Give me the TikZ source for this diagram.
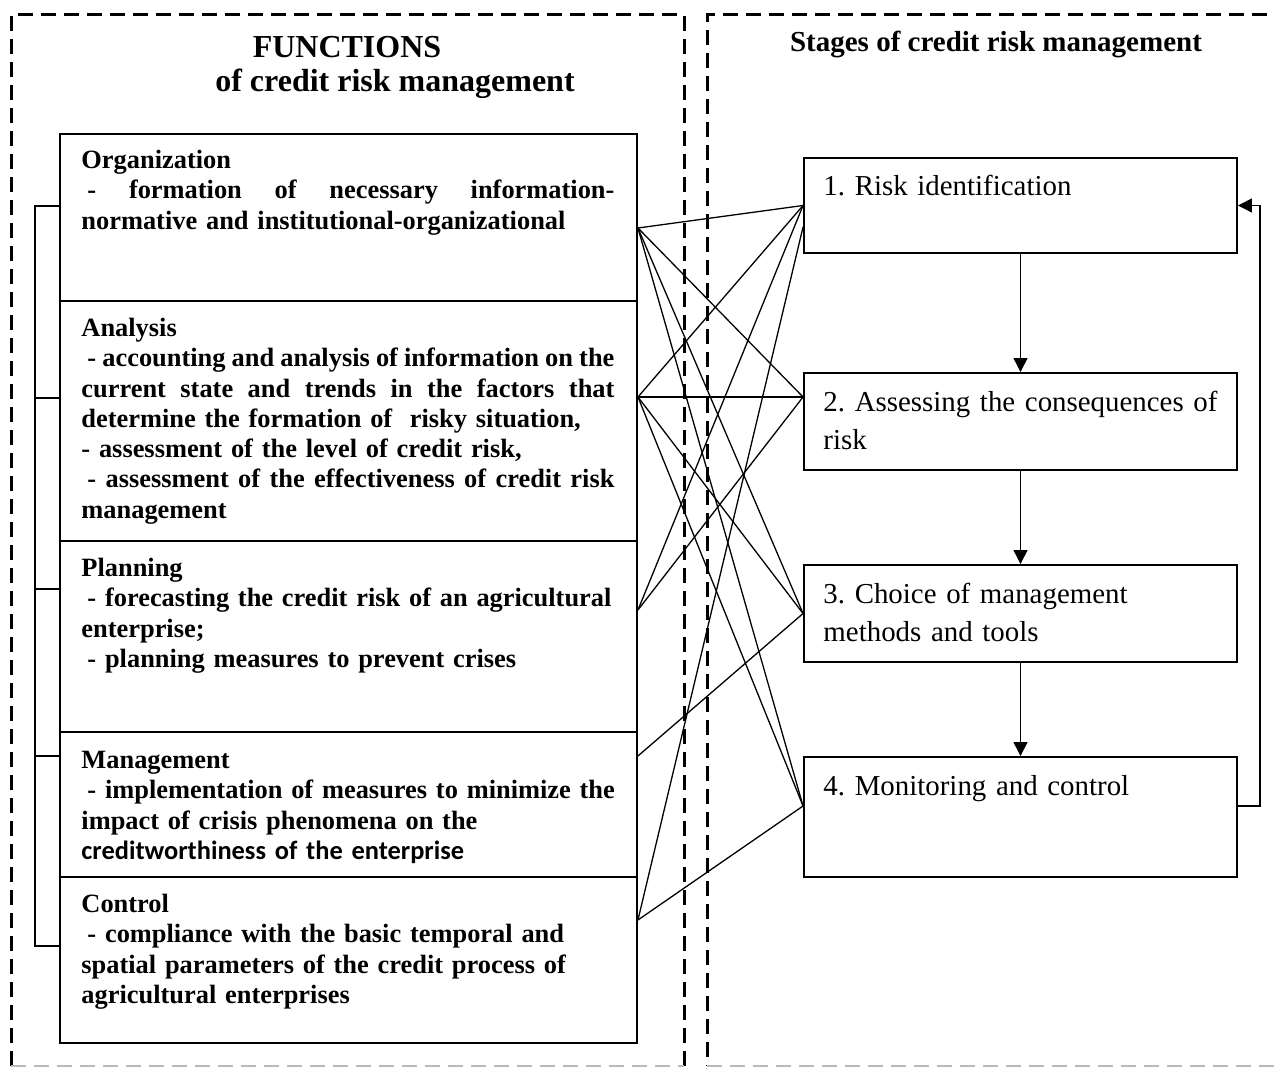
\documentclass[tikz,border=0pt]{standalone}
\usepackage{fontspec}
\setmainfont{Liberation Serif}
\newfontfamily\carlito{Carlito}
\usetikzlibrary{calc,arrows.meta}
% a line of body text spread (or squeezed) to the full text width
\newcommand\fullline[1]{\leavevmode\hbox to 266.5pt{\spaceskip=0.25em plus 2em minus 0.1em\relax #1}}
\begin{document}
\frenchspacing
\begin{tikzpicture}[x=0.5pt,y=-0.5pt,
  frame/.style={line width=1.5pt, dash pattern=on 7.5pt off 4pt},
  fbox/.style={draw, line width=0.95pt, minimum width=288.5pt, inner sep=0pt},
  sbox/.style={draw, line width=0.95pt, minimum width=216.5pt, inner sep=0pt},
  ftext/.style={anchor=north west, inner sep=0pt, text width=280pt, align=left,
    font=\fontsize{13.2}{15.15}\selectfont\bfseries\frenchspacing},
  stext/.style={anchor=north west, inner sep=0pt, text width=212pt, align=left,
    font=\fontsize{14.45}{19}\selectfont\frenchspacing},
  ttl/.style={anchor=base, inner sep=0pt, font=\bfseries},
  link/.style={line width=0.65pt},
  flow/.style={line width=0.65pt, -{Triangle[length=7pt,width=7pt]}},
]
\useasboundingbox (0,0) rectangle (1274,1068);

% dashed frames of the two panels
\draw[frame] (11,1066) -- (11,15) -- (684,15) -- (684,1066);
\draw[frame] (1290,15) -- (707,15) -- (707,1066);
\draw[gray!55, line width=0.8pt, dash pattern=on 7.5pt off 4pt] (11,1066) -- (684,1066);
\draw[gray!55, line width=0.8pt, dash pattern=on 7.5pt off 4pt] (707,1066) -- (1290,1066);

% panel titles
\node[ttl, font=\fontsize{16}{19}\selectfont\bfseries] (t1) at (347,58) {FUNCTIONS};
\node[ttl, font=\fontsize{16}{19}\selectfont\bfseries] (t2) at (395,92) {of credit risk management};
\node[ttl, font=\fontsize{14.5}{17}\selectfont\bfseries] (t3) at (996,52) {Stages of credit risk management};

% function boxes
\node[fbox, minimum height=83.5pt] (org) at (348.5,217.5) {};
\node[fbox, minimum height=120pt]  (ana) at (348.5,421) {};
\node[fbox, minimum height=95.5pt] (pla) at (348.5,636.5) {};
\node[fbox, minimum height=72.5pt] (man) at (348.5,804.5) {};
\node[fbox, minimum height=83pt]   (con) at (348.5,960) {};

\node[ftext] (orgT) at ($(org.north west)+(22,15)$) {\rule{0pt}{10pt}Organization\\
\fullline{\hspace*{3pt}- formation of necessary information-}\\
normative and institutional-organizational};

\node[ftext] (anaT) at ($(ana.north west)+(22,16)$) {\rule{0pt}{10pt}Analysis\\
\fullline{\hspace*{3pt}- accounting and analysis of information on the}\\
\fullline{current state and trends in the factors that}\\
determine the formation of\ \ risky situation,\\
- assessment of the level of credit risk,\\
\fullline{\hspace*{3pt}- assessment of the effectiveness of credit risk}\\
management};

\node[ftext] (plaT) at ($(pla.north west)+(22,16)$) {\rule{0pt}{10pt}Planning\\
\hspace*{3pt}- forecasting the credit risk of an agricultural\\
enterprise;\\
\hspace*{3pt}- planning measures to prevent crises};

\node[ftext] (manT) at ($(man.north west)+(22,17)$) {\rule{0pt}{10pt}Management\\
\hspace*{3pt}- implementation of measures to minimize the\\
impact of crisis phenomena on the\\
{\carlito creditworthiness of the enterprise}};

\node[ftext] (conT) at ($(con.north west)+(22,16)$) {\rule{0pt}{10pt}Control\\
\hspace*{3pt}- compliance with the basic temporal and\\
spatial parameters of the credit process of\\
agricultural enterprises};

% bracket joining the functions
\draw[link, line width=0.8pt] ($(org.west)+(0,-11.5)$) -- ++(-24,0) |- ($(con.west)+(0,-14)$);
\draw[link, line width=0.8pt] ($(ana.west)+(0,-23)$) -- ++(-24,0);
\draw[link, line width=0.8pt] ($(pla.west)+(0,-47.5)$) -- ++(-24,0);
\draw[link, line width=0.8pt] ($(man.west)+(0,-48.5)$) -- ++(-24,0);

% stage boxes
\node[sbox, minimum height=47.5pt] (s1) at (1020.5,205.5) {};
\node[sbox, minimum height=48.5pt] (s2) at (1020.5,421.5) {};
\node[sbox, minimum height=48.5pt] (s3) at (1020.5,613.5) {};
\node[sbox, minimum height=60pt]   (s4) at (1020.5,817) {};

\node[stext] (s1T) at ($(s1.north west)+(20,16)$) {\rule{0pt}{11pt}1. Risk identification};
\node[stext] (s2T) at ($(s2.north west)+(20,17)$) {\rule{0pt}{11pt}2. Assessing the consequences of\\risk};
\node[stext] (s3T) at ($(s3.north west)+(20,17)$) {\rule{0pt}{11pt}3. Choice of management\\methods and tools};
\node[stext] (s4T) at ($(s4.north west)+(20,17)$) {\rule{0pt}{11pt}4. Monitoring and control};

% attachment points
\coordinate (oR) at ($(org.east)+(0,10.5)$);
\coordinate (aR) at ($(ana.east)+(0,-24)$);
\coordinate (pR) at ($(pla.east)+(0,-26.5)$);
\coordinate (mR) at ($(man.east)+(0,-48.5)$);
\coordinate (cR) at ($(con.east)+(0,-40)$);
\coordinate (s1L) at (s1.west);
\coordinate (s1Lb) at ($(s1.west)+(0,21.5)$);
\coordinate (s2L) at ($(s2.west)+(0,-24.5)$);
\coordinate (s3L) at (s3.west);
\coordinate (s4L) at ($(s4.west)+(0,-11)$);

% links between functions and stages
\foreach \a/\b in {oR/s1L, oR/s2L, oR/s3L, oR/s4L,
                   aR/s1L, aR/s2L, aR/s3L, aR/s4L,
                   pR/s1L, pR/s2L, mR/s3L, cR/s1Lb, cR/s4L}
  \draw[link] (\a) -- (\b);

% sequence of stages
\draw[flow] (s1.south) -- (s2.north);
\draw[flow] (s2.south) -- (s3.north);
\draw[flow] (s3.south) -- (s4.north);
\draw[flow] ($(s4.east)+(0,-11)$) -- ++(22,0) |- (s1.east);
\end{tikzpicture}
\end{document}
